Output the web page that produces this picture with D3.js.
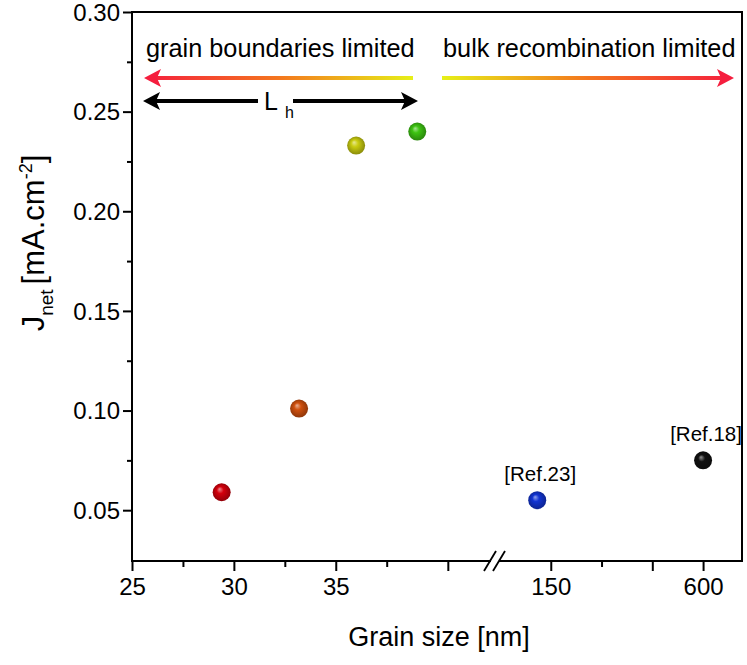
<!DOCTYPE html>
<html>
<head>
<meta charset="utf-8">
<script src="https://cdn.jsdelivr.net/npm/d3@7"></script>
<style>
  html, body { margin: 0; padding: 0; background: #fff; }
  svg { display: block; }
  text { font-family: "Liberation Sans", Arial, Helvetica, sans-serif; fill: #000; }
</style>
</head>
<body>
<svg id="chart" width="747" height="665"></svg>
<script>
// ---------------- data ----------------
const grainSize = [29.4, 33.2, 36.0, 39.0, 110, 600];
const jnet      = [0.059, 0.101, 0.233, 0.240, 0.055, 0.075];
const segment   = ["left", "left", "left", "left", "right", "right"];
const refLabels = ["", "", "", "", "[Ref.23]", "[Ref.18]"];
const pointColors = ["#d4000c", "#d0500e", "#c9cc10", "#3ec412", "#1234d2", "#111111"];

const yMajorTicks = [0.05, 0.10, 0.15, 0.20, 0.25, 0.30];
const yMinorTicks = [0.075, 0.125, 0.175, 0.225, 0.275];
const xLeftMajor  = [25, 30, 35, 40.5];
const xLeftLabels = ["25", "30", "35", ""];
const xLeftMinor  = [27.5, 32.5, 37.5];
const xRightMajor = [150, 450, 600];
const xRightLabels = ["150", "", "600"];
const xRightMinor = [300];

// ---------------- layout ----------------
const svg = d3.select("#chart");
const L = 132, R = 742, T = 12, B = 561;
const breakL = 490, breakR = 500;

const xLeft  = d3.scaleLinear().domain([25, 42.57]).range([L, breakL]);
const xRight = d3.scaleLinear().domain([0, 715]).range([breakR, R]);
const y = d3.scaleLinear().domain([0.0245, 0.30]).range([B, T]);
const xOf = i => segment[i] === "left" ? xLeft(grainSize[i]) : xRight(grainSize[i]);

const FONT = '"Liberation Sans", Arial, Helvetica, sans-serif';

// ---------------- axes ----------------
function styleAxis(g) {
  g.select(".domain").remove();
  g.selectAll(".tick line").attr("stroke", "#000").attr("stroke-width", 2);
  g.selectAll(".tick text").attr("font-family", FONT).attr("font-size", 24).attr("fill", "#000");
}

// Y axis
svg.append("g").attr("transform", `translate(${L},0)`)
  .call(d3.axisLeft(y).tickValues(yMajorTicks).tickFormat(d3.format(".2f")).tickSize(9).tickPadding(3))
  .call(styleAxis)
  .selectAll(".tick text").attr("dy", "0.34em");
svg.append("g").attr("transform", `translate(${L},0)`)
  .call(d3.axisLeft(y).tickValues(yMinorTicks).tickFormat("").tickSize(5))
  .call(styleAxis);

// X axis - left segment
svg.append("g").attr("transform", `translate(0,${B})`)
  .call(d3.axisBottom(xLeft).tickValues(xLeftMajor).tickFormat((d, i) => xLeftLabels[i]).tickSize(10).tickPadding(7))
  .call(styleAxis);
svg.append("g").attr("transform", `translate(0,${B})`)
  .call(d3.axisBottom(xLeft).tickValues(xLeftMinor).tickFormat("").tickSize(6))
  .call(styleAxis);
// X axis - right segment
svg.append("g").attr("transform", `translate(0,${B})`)
  .call(d3.axisBottom(xRight).tickValues(xRightMajor).tickFormat((d, i) => xRightLabels[i]).tickSize(10).tickPadding(7))
  .call(styleAxis);
svg.append("g").attr("transform", `translate(0,${B})`)
  .call(d3.axisBottom(xRight).tickValues(xRightMinor).tickFormat("").tickSize(6))
  .call(styleAxis);

// Frame
const frame = svg.append("g").attr("fill", "none").attr("stroke", "#000").attr("stroke-width", 2);
frame.append("path").attr("d", `M${breakL},${B} L${L},${B} L${L},${T} L${R},${T} L${R},${B} L${breakR},${B}`)
  .attr("stroke-linejoin", "miter").attr("stroke-linecap", "square");
// break marks
frame.append("line").attr("x1", breakL - 6).attr("y1", B + 10).attr("x2", breakL + 6).attr("y2", B - 10).attr("stroke-width", 1.8);
frame.append("line").attr("x1", breakR - 7).attr("y1", B + 10).attr("x2", breakR + 5).attr("y2", B - 10).attr("stroke-width", 1.8);

// ---------------- annotations ----------------
const defs = svg.append("defs");
const gLeft = defs.append("linearGradient").attr("id", "gradLeft")
  .attr("gradientUnits", "userSpaceOnUse").attr("x1", 144).attr("x2", 413).attr("y1", 0).attr("y2", 0);
gLeft.append("stop").attr("offset", 0).attr("stop-color", "#f51e3e");
gLeft.append("stop").attr("offset", 0.5).attr("stop-color", "#f4761e");
gLeft.append("stop").attr("offset", 1).attr("stop-color", "#e6f018");
const gRight = defs.append("linearGradient").attr("id", "gradRight")
  .attr("gradientUnits", "userSpaceOnUse").attr("x1", 442).attr("x2", 733).attr("y1", 0).attr("y2", 0);
gRight.append("stop").attr("offset", 0).attr("stop-color", "#e6f018");
gRight.append("stop").attr("offset", 0.5).attr("stop-color", "#f4761e");
gRight.append("stop").attr("offset", 1).attr("stop-color", "#f51e3e");

const ay = 78;
svg.append("text").attr("x", 146).attr("y", 57).attr("font-size", 25.3).text("grain boundaries limited");
svg.append("text").attr("x", 443).attr("y", 57).attr("font-size", 25.3).text("bulk recombination limited");

svg.append("rect").attr("x", 155).attr("y", ay - 2).attr("width", 413 - 155).attr("height", 4).attr("fill", "url(#gradLeft)");
svg.append("path").attr("d", `M144,${ay} L161,${ay - 9} L157,${ay} L161,${ay + 9} Z`).attr("fill", "#f51e3e");
svg.append("rect").attr("x", 442).attr("y", ay - 2).attr("width", 722 - 442).attr("height", 4).attr("fill", "url(#gradRight)");
svg.append("path").attr("d", `M734,${ay} L717,${ay - 9} L721,${ay} L717,${ay + 9} Z`).attr("fill", "#f51e3e");

// L_h double arrow
const by = 101;
svg.append("rect").attr("x", 152).attr("y", by - 2).attr("width", 258 - 152).attr("height", 4).attr("fill", "#000");
svg.append("rect").attr("x", 293).attr("y", by - 2).attr("width", 408 - 293).attr("height", 4).attr("fill", "#000");
svg.append("path").attr("d", `M143,${by} L160,${by - 9} L156,${by} L160,${by + 9} Z`).attr("fill", "#000");
svg.append("path").attr("d", `M418,${by} L401,${by - 9} L405,${by} L401,${by + 9} Z`).attr("fill", "#000");
svg.append("text").attr("x", 264).attr("y", 110).attr("font-size", 25).text("L");
svg.append("text").attr("x", 285).attr("y", 118).attr("font-size", 16).text("h");

// ---------------- points ----------------
pointColors.forEach((c, i) => {
  const col = d3.color(c);
  const gr = defs.append("radialGradient").attr("id", "sph" + i)
    .attr("cx", "50%").attr("cy", "50%").attr("r", "55%").attr("fx", "38%").attr("fy", "32%");
  gr.append("stop").attr("offset", 0).attr("stop-color", d3.interpolateRgb(c, "#ffffff")(0.55));
  gr.append("stop").attr("offset", 0.35).attr("stop-color", c);
  gr.append("stop").attr("offset", 1).attr("stop-color", col.darker(1.2).formatHex());
});

svg.append("g").selectAll("circle").data(grainSize).join("circle")
  .attr("cx", (d, i) => xOf(i))
  .attr("cy", (d, i) => y(jnet[i]))
  .attr("r", 9)
  .attr("fill", (d, i) => `url(#sph${i})`);

svg.append("g").selectAll("text").data(refLabels).join("text")
  .attr("x", (d, i) => xOf(i) + 3)
  .attr("y", (d, i) => y(jnet[i]) - 19)
  .attr("text-anchor", "middle")
  .attr("font-size", 20.5)
  .text(d => d);

// ---------------- axis titles ----------------
svg.append("text").attr("x", (L + R) / 2 + 2).attr("y", 646).attr("text-anchor", "middle")
  .attr("font-size", 27).text("Grain size [nm]");

const yl = svg.append("text").attr("transform", "translate(44,243) rotate(-90)")
  .attr("text-anchor", "middle").attr("font-size", 31);
yl.append("tspan").text("J");
yl.append("tspan").attr("font-size", 19).attr("dy", 9).text("net");
yl.append("tspan").attr("dy", -9).attr("dx", 5).text("[mA.cm");
yl.append("tspan").attr("font-size", 18).attr("dy", -12).text("-2");
yl.append("tspan").attr("dy", 12).text("]");
</script>
</body>
</html>
